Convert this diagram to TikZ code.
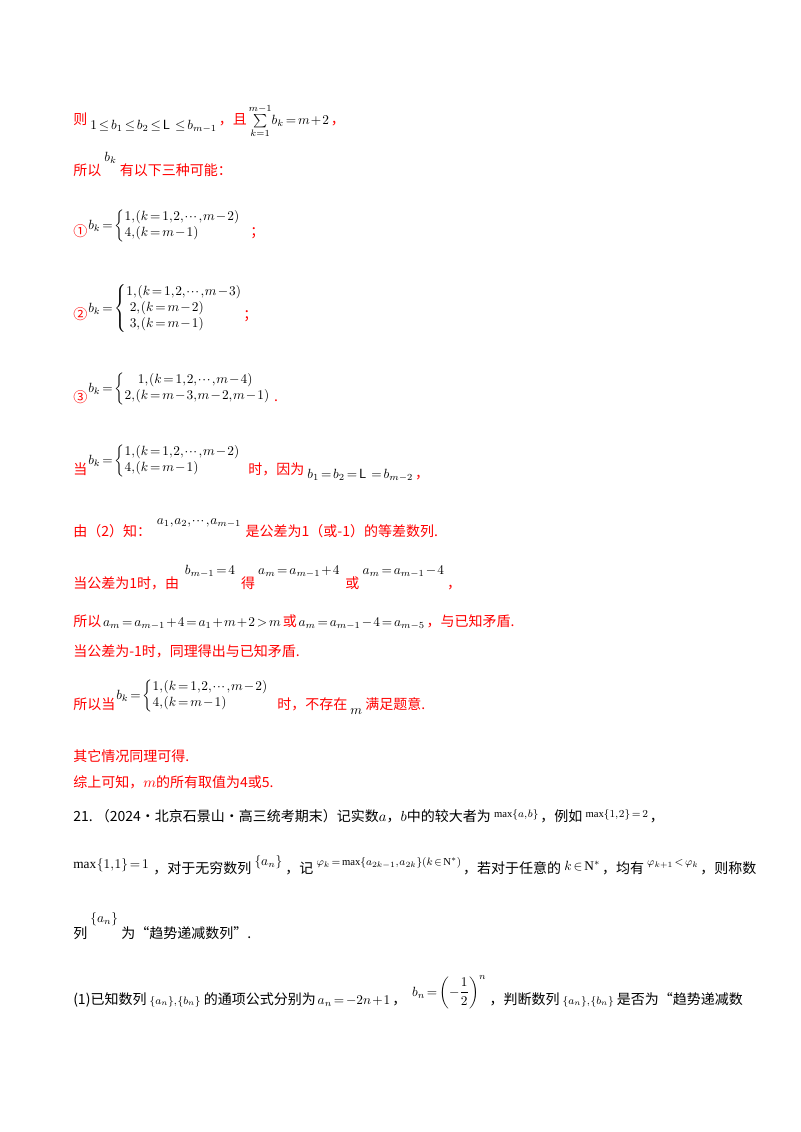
\documentclass[tikz,border=0pt]{standalone}
\usepackage{amsmath,amssymb}
\usepackage{fontspec}
\setmainfont{Liberation Serif}
\newfontfamily\cjk{Noto Sans CJK SC}
\definecolor{rd}{RGB}{255,0,0}
\begin{document}
\thinmuskip=1mu
\medmuskip=1.5mu
\thickmuskip=2.5mu
\begin{tikzpicture}[x=0.75pt,y=-0.75pt,
  t/.style={anchor=base west,inner sep=0pt,font=\cjk\fontsize{10.5}{12}\selectfont},
  r/.style={t,text=rd},
  m/.style={anchor=base west,inner sep=0pt,font=\fontsize{10}{12}\selectfont},
  s/.style={m,font=\fontsize{8}{10}\selectfont}]
\useasboundingbox (0,0) rectangle (800,1132);
% line 1
\node[r] (a1) at (73,124) {则};
\node[m] (a2) at ([xshift=2pt,yshift=-4pt]a1.base east) {$1\le b_1\le b_2\le \mathsf{L}\ \le b_{m-1}$};
\node[r] (a3) at ([xshift=1pt,yshift=4pt]a2.base east) {，且};
\node[m] (a4) at ([xshift=1pt]a3.base east) {$\sum\limits_{k=1}^{m-1}\! b_k=m+2$};
\node[r] (a5) at ([xshift=1pt]a4.base east) {，};
% line 2
\node[r] (b1) at (73,175) {所以};
\node[m] (b2) at ([xshift=2pt,yshift=10pt]b1.base east) {$b_k$};
\node[r] (b3) at ([xshift=2pt,yshift=-10pt]b2.base east) {有以下三种可能：};
% case 1
\node[r] (c1) at (73,236) {①};
\node[m] (c2) at (88,229) {$b_k=\left\{\begin{array}{@{}l@{}}1,\left(k=1,2,\cdots,m-2\right)\\ 4,\left(k=m-1\right)\end{array}\right.$};
\node[r] (c3) at (250,236) {；};
% case 2
\node[r] (d1) at (73,319) {②};
\node[m] (d2) at (88,312) {$b_k=\left\{\begin{array}{@{}l@{}}1,\left(k=1,2,\cdots,m-3\right)\\ \ 2,\left(k=m-2\right)\\ \ 3,\left(k=m-1\right)\end{array}\right.$};
\node[r] (d3) at (243,319) {；};
% case 3
\node[r] (e1) at (73,402) {③};
\node[m] (e2) at (88,392) {$b_k=\left\{\begin{array}{@{}l@{}}\quad 1,\left(k=1,2,\cdots,m-4\right)\\ 2,\left(k=m-3,m-2,m-1\right)\end{array}\right.$};
\node[r] (e3) at ([xshift=2pt,yshift=-7pt]e2.base east) {.};
% when
\node[r] (f1) at (73,474) {当};
\node[m] (f2) at (88,464) {$b_k=\left\{\begin{array}{@{}l@{}}1,\left(k=1,2,\cdots,m-2\right)\\ 4,\left(k=m-1\right)\end{array}\right.$};
\node[r] (f3) at (248,474) {时，因为};
\node[m] (f4) at ([xshift=2pt,yshift=-3pt]f3.base east) {$b_1=b_2=\mathsf{L}\ =b_{m-2}$};
\node[r] (f5) at ([xshift=1pt]f4.base east) {，};
% by (2)
\node[r] (g1) at (73,536) {由（2）知：};
\node[m] (g2) at ([xshift=4pt,yshift=9pt]g1.base east) {$a_1,a_2,\cdots,a_{m-1}$};
\node[r] (g3) at ([xshift=3pt,yshift=-9pt]g2.base east) {是公差为1（或-1）的等差数列.};
\node[r] (h1) at (73,588) {当公差为1时，由};
\node[m] (h2) at ([xshift=4pt,yshift=10pt]h1.base east) {$b_{m-1}=4$};
\node[r] (h3) at ([xshift=4pt,yshift=-10pt]h2.base east) {得};
\node[m] (h4) at ([xshift=2pt,yshift=10pt]h3.base east) {$a_m=a_{m-1}+4$};
\node[r] (h5) at ([xshift=4pt,yshift=-10pt]h4.base east) {或};
\node[m] (h6) at ([xshift=2pt,yshift=10pt]h5.base east) {$a_m=a_{m-1}-4$};
\node[r] (h7) at ([xshift=2pt,yshift=-10pt]h6.base east) {，};
\node[r] (i1) at (73,626) {所以};
\node[m] (i2) at ([xshift=1pt]i1.base east) {$a_m=a_{m-1}+4=a_1+m+2>m$};
\node[r] (i3) at ([xshift=1pt]i2.base east) {或};
\node[m] (i4) at ([xshift=1pt]i3.base east) {$a_m=a_{m-1}-4=a_{m-5}$};
\node[r] (i5) at ([xshift=1pt]i4.base east) {，与已知矛盾.};
\node[r] (j1) at (73,656) {当公差为-1时，同理得出与已知矛盾.};
\node[r] (k1) at (73,709) {所以当};
\node[m] (k2) at (116,699) {$b_k=\left\{\begin{array}{@{}l@{}}1,\left(k=1,2,\cdots,m-2\right)\\ 4,\left(k=m-1\right)\end{array}\right.$};
\node[r] (k3) at (277,709) {时，不存在};
\node[m] (k4) at ([xshift=2pt,yshift=-4pt]k3.base east) {$m$};
\node[r] (k5) at ([xshift=2pt,yshift=4pt]k4.base east) {满足题意.};
\node[r] (l1) at (73,761) {其它情况同理可得.};
\node[r] (l2) at (73,787) {综上可知，$m$的所有取值为4或5.};
% problem 21
\node[t] (p1) at (73,821) {21.\ （2024·北京石景山·高三统考期末）记实数$a$，$b$中的较大者为};
\node[s] (p2) at ([xshift=2pt,yshift=3pt]p1.base east) {$\max\{a,b\}$};
\node[t] (p3) at ([xshift=1pt,yshift=-3pt]p2.base east) {，例如};
\node[s] (p4) at ([xshift=2pt,yshift=3pt]p3.base east) {$\max\{1,2\}=2$};
\node[t] (p5) at ([xshift=1pt,yshift=-3pt]p4.base east) {，};
\node[m] (q1) at (73,868) {$\max\left\{1,1\right\}=1$};
\node[t] (q2) at ([xshift=3pt,yshift=-4pt]q1.base east) {，对于无穷数列};
\node[m] (q3) at ([xshift=2pt,yshift=6pt]q2.base east) {$\{a_n\}$};
\node[t] (q4) at ([xshift=2pt,yshift=-6pt]q3.base east) {，记};
\node[s] (q5) at ([xshift=2pt,yshift=6pt]q4.base east) {$\varphi_k=\max\{a_{2k-1},a_{2k}\}(k\in\mathrm{N}^*)$};
\node[t] (q6) at ([xshift=1pt,yshift=-6pt]q5.base east) {，若对于任意的};
\node[m] (q7) at ([xshift=2pt,yshift=2pt]q6.base east) {$k\in\mathrm{N}^*$};
\node[t] (q8) at ([xshift=1pt,yshift=-2pt]q7.base east) {，均有};
\node[s] (q9) at ([xshift=2pt,yshift=6pt]q8.base east) {$\varphi_{k+1}<\varphi_k$};
\node[t] (q10) at ([xshift=1pt,yshift=-6pt]q9.base east) {，则称数};
\node[t] (s1) at (73,938) {列};
\node[m] (s2) at ([xshift=2pt,yshift=12pt]s1.base east) {$\{a_n\}$};
\node[t] (s3) at ([xshift=2pt,yshift=-12pt]s2.base east) {为“趋势递减数列”.};
\node[t] (u1) at (73,1004) {(1)已知数列};
\node[s] (u2) at ([xshift=2pt]u1.base east) {$\{a_n\},\{b_n\}$};
\node[t] (u3) at ([xshift=2pt]u2.base east) {的通项公式分别为};
\node[m] (u4) at ([xshift=1pt]u3.base east) {$a_n=-2n+1$};
\node[t] (u5) at ([xshift=1pt]u4.base east) {，};
\node[m] (u6) at ([xshift=4pt,yshift=6pt]u5.base east) {$b_n=\left(-\dfrac{1}{2}\right)^{n}$};
\node[t] (u7) at ([xshift=2pt,yshift=-6pt]u6.base east) {，判断数列};
\node[s] (u8) at ([xshift=2pt]u7.base east) {$\{a_n\},\{b_n\}$};
\node[t] (u9) at ([xshift=2pt]u8.base east) {是否为“趋势递减数};
\end{tikzpicture}
\end{document}
